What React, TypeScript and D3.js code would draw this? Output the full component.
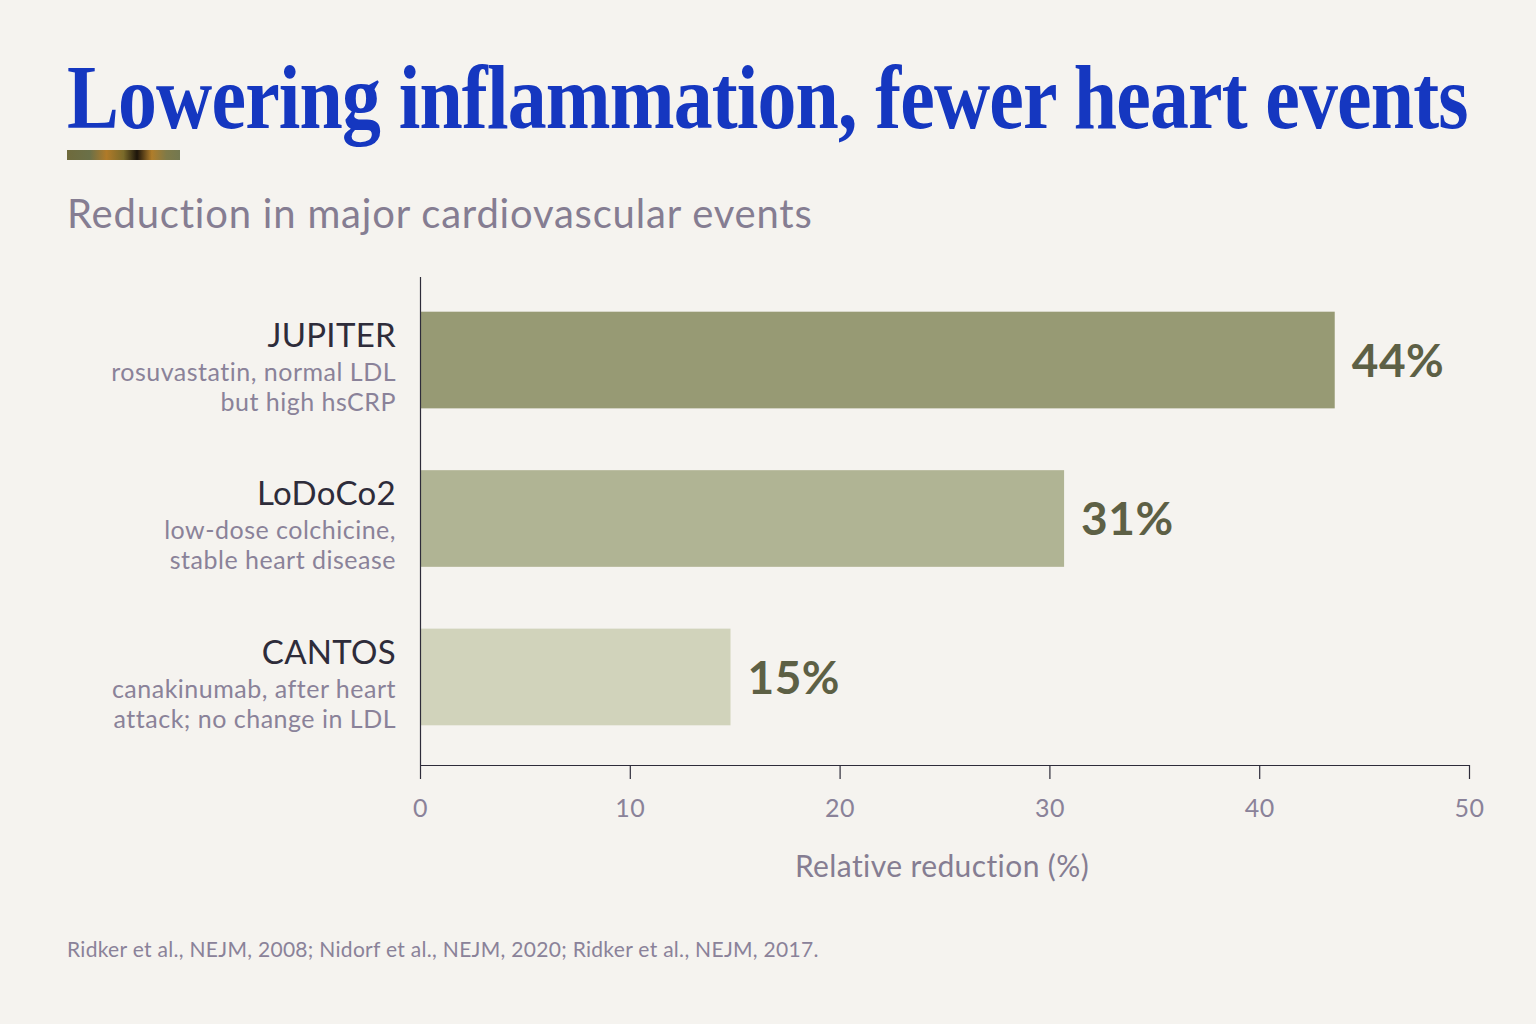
import React, { useEffect, useRef } from "react";
import * as d3 from "d3";

const trials = ["JUPITER", "LoDoCo2", "CANTOS"];
const subLines = [
  ["rosuvastatin, normal LDL", "but high hsCRP"],
  ["low-dose colchicine,", "stable heart disease"],
  ["canakinumab, after heart", "attack; no change in LDL"],
];
const reductions = [43.6, 30.7, 14.8];
const valueLabels = ["44%", "31%", "15%"];
const barColors = ["#979a74", "#b0b494", "#d1d3bb"];
const xTicks = [0, 10, 20, 30, 40, 50];

const W = 1536;
const H = 1024;
const SANS = "Lato, 'Noto Sans', sans-serif";

export default function App() {
  const ref = useRef<SVGSVGElement | null>(null);

  useEffect(() => {
    const svg = d3.select(ref.current);
    svg.selectAll("*").remove();

    svg.append("rect").attr("width", W).attr("height", H).attr("fill", "#f5f3ef");

    // Title: condensed look via horizontal scale fitted to the reference width
    const titleG = svg.append("g");
    const title = titleG
      .append("text")
      .attr("x", 0)
      .attr("y", 0)
      .attr("font-family", "'Liberation Serif', 'DejaVu Serif', serif")
      .attr("font-weight", 700)
      .attr("font-size", 90)
      .attr("letter-spacing", -1)
      .attr("fill", "#1537c0")
      .text("Lowering inflammation, fewer heart events");
    const natural = (title.node() as SVGTextElement).getComputedTextLength();
    const k = 1401 / natural;
    titleG.attr("transform", `translate(67,128) scale(${k},1)`);

    // Accent bar
    const defs = svg.append("defs");
    const grad = defs.append("linearGradient").attr("id", "accent");
    const stops = [
      [0, "#6f6a3c"],
      [0.2, "#6a7048"],
      [0.35, "#b07a28"],
      [0.5, "#7a6a2a"],
      [0.62, "#1c140a"],
      [0.75, "#b07d2a"],
      [0.88, "#7f7a48"],
      [1, "#737850"],
    ];
    stops.forEach(([o, c]) => grad.append("stop").attr("offset", o as number).attr("stop-color", c as string));
    svg.append("rect").attr("x", 67).attr("y", 150).attr("width", 113).attr("height", 10).attr("fill", "url(#accent)");

    // Subtitle
    svg
      .append("text")
      .attr("x", 67)
      .attr("y", 228)
      .attr("font-family", SANS)
      .attr("font-size", 40)
      .attr("letter-spacing", 0.8)
      .attr("fill", "#857d92")
      .text("Reduction in major cardiovascular events");

    const x = d3.scaleLinear().domain([0, 50]).range([420, 1469]);
    const y = d3.scaleBand().domain(trials).range([280, 757]).paddingInner(0.39).paddingOuter(0.2);

    // Bars
    svg
      .selectAll("rect.bar")
      .data(trials)
      .join("rect")
      .attr("class", "bar")
      .attr("x", x(0))
      .attr("y", (d) => y(d)!)
      .attr("width", (d, i) => x(reductions[i]) - x(0))
      .attr("height", y.bandwidth())
      .attr("fill", (d, i) => barColors[i]);

    // Value labels
    svg
      .selectAll("text.val")
      .data(trials)
      .join("text")
      .attr("class", "val")
      .attr("x", (d, i) => x(reductions[i]) + 17)
      .attr("y", (d) => y(d)! + y.bandwidth() / 2)
      .attr("dy", "0.36em")
      .attr("font-family", SANS)
      .attr("font-weight", 700)
      .attr("font-size", 46)
      .attr("letter-spacing", 0.5)
      .attr("fill", "#5d6045")
      .text((d, i) => valueLabels[i]);

    // Category labels
    trials.forEach((t, i) => {
      const top = y(t)!;
      svg
        .append("text")
        .attr("x", 396)
        .attr("y", top + 35)
        .attr("text-anchor", "end")
        .attr("font-family", SANS)
        .attr("font-size", 33)
        .attr("letter-spacing", 0.3)
        .attr("fill", "#2e2c3a")
        .text(t);
      subLines[i].forEach((line, j) => {
        svg
          .append("text")
          .attr("x", 396)
          .attr("y", top + 69 + j * 30)
          .attr("text-anchor", "end")
          .attr("font-family", SANS)
          .attr("font-size", 25)
          .attr("letter-spacing", 0.5)
          .attr("fill", "#8a8299")
          .text(line);
      });
    });

    // Y axis line
    svg
      .append("line")
      .attr("x1", 420.5)
      .attr("x2", 420.5)
      .attr("y1", 277)
      .attr("y2", 765)
      .attr("stroke", "#2e2c3a")
      .attr("stroke-width", 1.2);

    // X axis
    const xAxis = svg
      .append("g")
      .attr("transform", "translate(0,765)")
      .call(d3.axisBottom(x).tickValues(xTicks).tickSize(14).tickPadding(20).tickSizeOuter(0));
    xAxis.select(".domain").attr("stroke", "#2e2c3a").attr("stroke-width", 1.2);
    xAxis.selectAll(".tick line").attr("stroke", "#2e2c3a").attr("stroke-width", 1.2);
    xAxis
      .selectAll(".tick text")
      .attr("font-family", SANS)
      .attr("font-size", 25)
      .attr("letter-spacing", 0.5)
      .attr("fill", "#8a8299");

    svg
      .append("text")
      .attr("x", 942)
      .attr("y", 877)
      .attr("text-anchor", "middle")
      .attr("font-family", SANS)
      .attr("font-size", 30)
      .attr("letter-spacing", 0.4)
      .attr("fill", "#857d92")
      .text("Relative reduction (%)");

    svg
      .append("text")
      .attr("x", 67)
      .attr("y", 957)
      .attr("font-family", SANS)
      .attr("font-size", 21)
      .attr("letter-spacing", 0.3)
      .attr("fill", "#8a8299")
      .text("Ridker et al., NEJM, 2008; Nidorf et al., NEJM, 2020; Ridker et al., NEJM, 2017.");
  }, []);

  return <svg ref={ref} width={W} height={H} style={{ display: "block", position: "absolute", left: 0, top: 0 }} />;
}
